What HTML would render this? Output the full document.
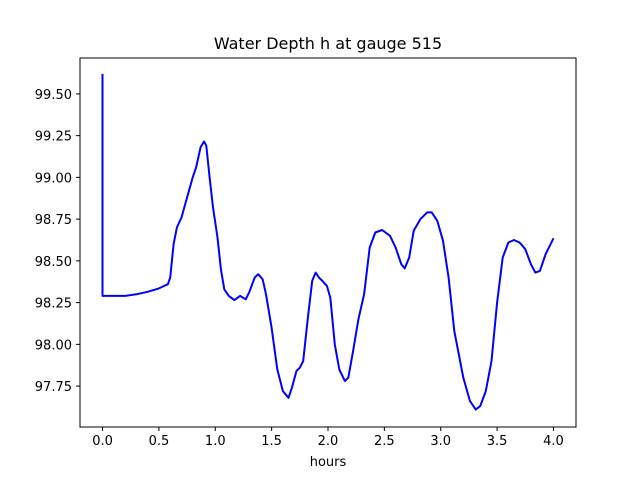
<!DOCTYPE html>
<html><head><meta charset="utf-8"><style>body{margin:0;background:#fff}svg{display:block;font-family:"DejaVu Sans","Liberation Sans",sans-serif}</style></head>
<body>
<svg id="c" width="640" height="480"></svg>
<script>
const tVals=[0,0,0.2,0.3,0.4,0.5,0.58,0.6,0.63,0.66,0.7,0.75,0.8,0.83,0.87,0.9,0.92,0.95,0.98,1.02,1.05,1.08,1.12,1.17,1.22,1.27,1.3,1.35,1.38,1.42,1.45,1.5,1.55,1.6,1.65,1.68,1.72,1.75,1.78,1.82,1.86,1.89,1.92,1.95,1.99,2.02,2.06,2.1,2.15,2.18,2.22,2.27,2.32,2.37,2.42,2.48,2.55,2.6,2.65,2.68,2.72,2.76,2.82,2.88,2.92,2.97,3.02,3.07,3.12,3.2,3.26,3.31,3.35,3.4,3.45,3.5,3.55,3.6,3.65,3.7,3.75,3.8,3.84,3.88,3.93,4.0];
const hVals=[99.62,98.29,98.29,98.30,98.315,98.335,98.36,98.40,98.60,98.70,98.76,98.88,99.00,99.06,99.18,99.215,99.19,99.0,98.82,98.64,98.45,98.33,98.29,98.265,98.29,98.27,98.31,98.40,98.42,98.39,98.30,98.10,97.85,97.72,97.68,97.74,97.84,97.86,97.90,98.15,98.38,98.43,98.40,98.38,98.35,98.28,98.00,97.85,97.78,97.80,97.95,98.15,98.30,98.58,98.67,98.685,98.65,98.58,98.48,98.455,98.52,98.68,98.75,98.79,98.79,98.74,98.62,98.40,98.08,97.80,97.66,97.61,97.63,97.72,97.90,98.25,98.52,98.61,98.625,98.61,98.57,98.48,98.43,98.44,98.54,98.635];
const xTicks=[0,0.5,1,1.5,2,2.5,3,3.5,4];
const xTickLabels=["0.0","0.5","1.0","1.5","2.0","2.5","3.0","3.5","4.0"];
const yTicks=[97.75,98,98.25,98.5,98.75,99,99.25,99.5];
const yTickLabels=["97.75","98.00","98.25","98.50","98.75","99.00","99.25","99.50"];
const L=80,R=576,T=58,B=427;
const xmin=-0.2,xmax=4.2,ymin=97.505,ymax=99.715;
const X=v=>L+(v-xmin)/(xmax-xmin)*(R-L);
const Y=v=>B-(v-ymin)/(ymax-ymin)*(B-T);
const svg=document.getElementById('c');const NS='http://www.w3.org/2000/svg';
function mk(tag,attrs,txt){const e=document.createElementNS(NS,tag);for(const k in attrs)e.setAttribute(k,attrs[k]);if(txt!==undefined)e.textContent=txt;svg.appendChild(e);return e;}
const line=mk('polyline',{points:tVals.map((t,i)=>X(t).toFixed(1)+','+Y(hVals[i]).toFixed(1)).join(' '),fill:'none',stroke:'#0000ff','stroke-width':2,'stroke-linejoin':'round'});


const frame=mk('rect',{x:L,y:T,width:R-L,height:B-T,fill:'none',stroke:'#000','stroke-width':1});


xTicks.forEach((v,i)=>{const x=X(v);
 const tk=mk('line',{x1:x,x2:x,y1:B,y2:B+4,stroke:'#000','stroke-width':1});
 
 
 const tl=mk('text',{x:x,y:B+18,'text-anchor':'middle','font-size':'13'},xTickLabels[i]);
 
 });
yTicks.forEach((v,i)=>{const y=Y(v);
 const tk=mk('line',{x1:L-4,x2:L,y1:y,y2:y,stroke:'#000','stroke-width':1});
 
 
 const tl=mk('text',{x:L-8,y:y+5,'text-anchor':'end','font-size':'13'},yTickLabels[i]);
 
 });
const xt=mk('text',{x:(L+R)/2,y:466,'text-anchor':'middle','font-size':'13'},'hours');


const ti=mk('text',{x:(L+R)/2,y:49,'text-anchor':'middle','font-size':'16'},'Water Depth h at gauge 515');


</script>
</body></html>
